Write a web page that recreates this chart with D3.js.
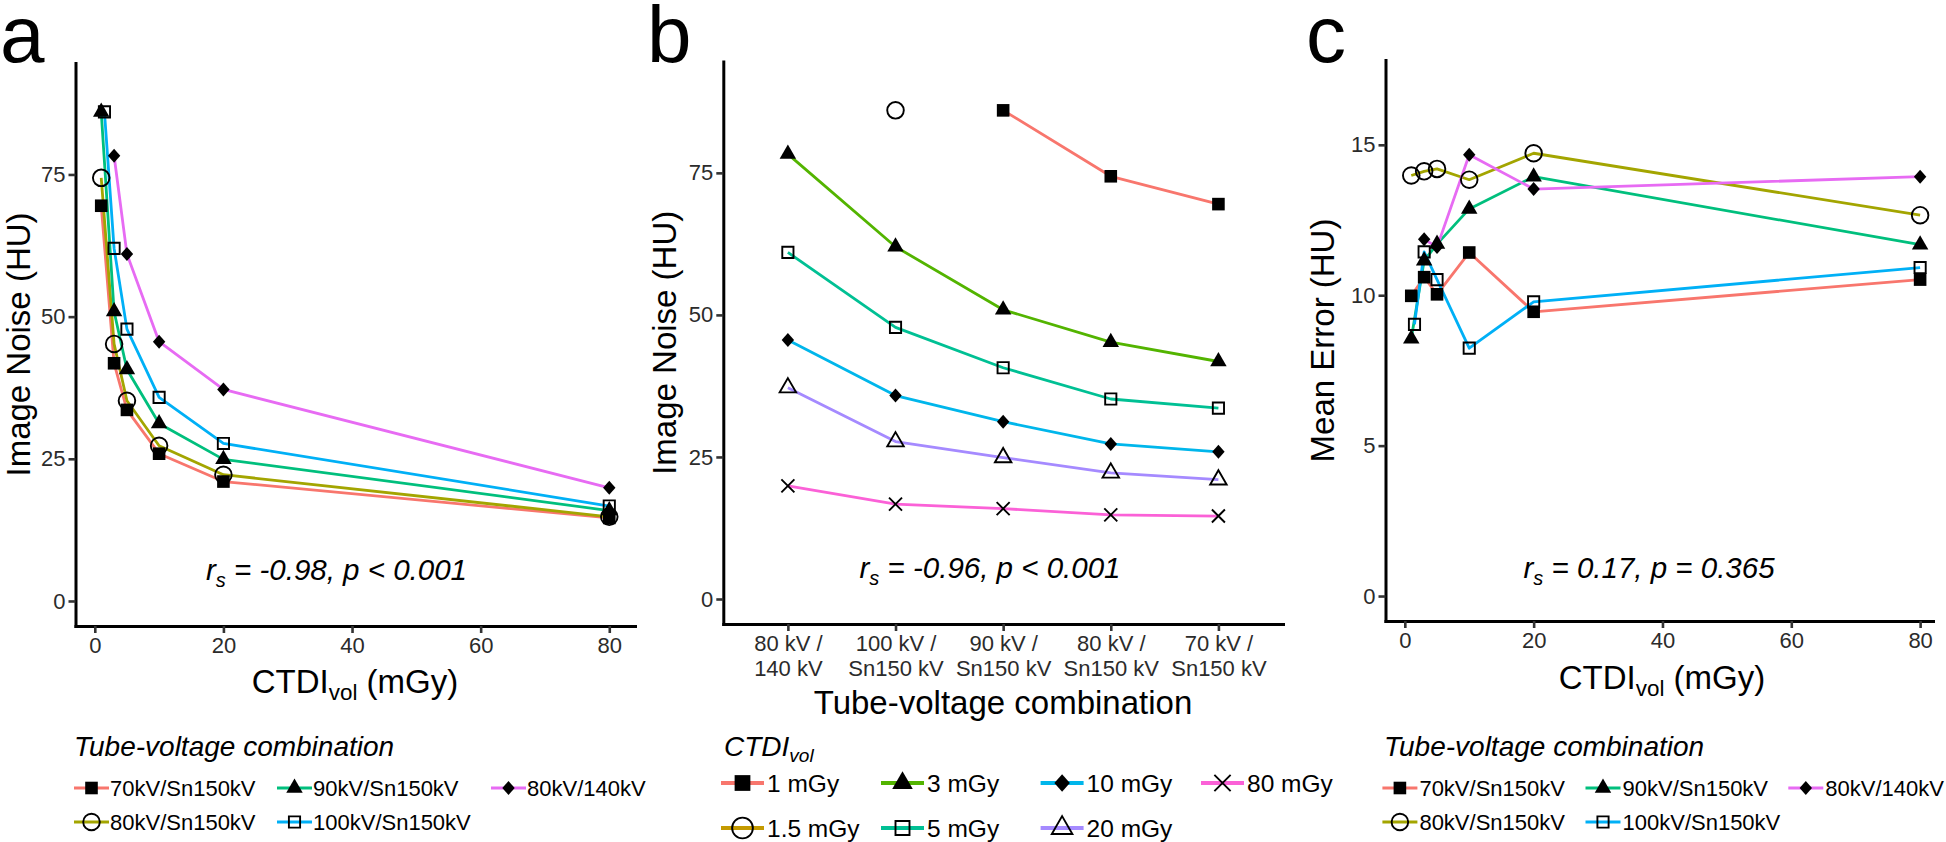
<!DOCTYPE html>
<html><head><meta charset="utf-8">
<script src="https://cdn.jsdelivr.net/npm/d3@7"></script>
<style>
body{margin:0;background:#fff;}
svg{display:block;}
text{font-family:"Liberation Sans",Arial,Helvetica,sans-serif;}
</style>
</head><body>
<svg id="chart" width="1946" height="842"></svg>
<script>
// ---------------- DATA ----------------
const ctdiLevels = [1, 1.5, 3, 5, 10, 20, 80];
const ctdiLabels = ["1 mGy", "1.5 mGy", "3 mGy", "5 mGy", "10 mGy", "20 mGy", "80 mGy"];
const tubeCombos = ["70kV/Sn150kV", "80kV/Sn150kV", "90kV/Sn150kV", "100kV/Sn150kV", "80kV/140kV"];
const panelBOrder = ["80kV/140kV", "100kV/Sn150kV", "90kV/Sn150kV", "80kV/Sn150kV", "70kV/Sn150kV"];
const panelBTickLabels = [["80 kV /", "140 kV"], ["100 kV /", "Sn150 kV"], ["90 kV /", "Sn150 kV"], ["80 kV /", "Sn150 kV"], ["70 kV /", "Sn150 kV"]];

// Image noise (HU), aligned with ctdiLevels (null = not measured)
const noise70kV  = [69.5, null, 41.8, 33.6, 25.9, 21.0, 14.6];
const noise80kVSn = [74.4, null, 45.2, 35.2, 27.3, 22.2, 14.8];
const noise90kV  = [86.0, null, 50.9, 40.7, 31.2, 24.9, 15.9];
const noise100kV = [null, 86.0, 62.0, 47.8, 35.8, 27.7, 16.7];
const noise80kV140 = [null, null, 78.3, 61.0, 45.6, 37.2, 19.9];

// Mean error (HU), aligned with ctdiLevels
const err70kV  = [9.98, null, 10.6, 10.03, 11.42, 9.45, 10.52];
const err80kVSn = [13.98, null, 14.12, 14.2, 13.84, 14.72, 12.66];
const err90kV  = [8.55, null, 11.15, 11.7, 12.87, 13.94, 11.68];
const err100kV = [null, 9.03, 11.44, 10.52, 8.24, 9.78, 10.92];
const err80kV140 = [null, null, 11.86, 11.6, 14.67, 13.53, 13.94];

const yTicksNoise = [0, 25, 50, 75];
const yTicksError = [0, 5, 10, 15];
const xTicksCtdi = [0, 20, 40, 60, 80];

const tubeColors = ["#F8766D", "#A3A500", "#00BF7D", "#00B0F6", "#E76BF3"];
const ctdiColors = ["#F8766D", "#C49A00", "#53B400", "#00C094", "#00B6EB", "#A58AFF", "#FB61D7"];
const tubeShapes = ["sqFilled", "circleOpen", "triFilled", "sqOpen", "diamond"];
const ctdiShapes = ["sqFilled", "circleOpen", "triFilled", "sqOpen", "diamond", "triOpen", "cross"];

const noiseByCombo = {};
[noise70kV, noise80kVSn, noise90kV, noise100kV, noise80kV140].forEach((a, i) => noiseByCombo[tubeCombos[i]] = a);
const errByCombo = {};
[err70kV, err80kVSn, err90kV, err100kV, err80kV140].forEach((a, i) => errByCombo[tubeCombos[i]] = a);

// ---------------- HELPERS ----------------
const svg = d3.select("#chart");

function shapePath(type, k) {
  const p = d3.path();
  if (type === "sqFilled") { const h = 6.3 * k; p.rect(-h, -h, 2 * h, 2 * h); }
  else if (type === "sqOpen") { const h = 5.6 * k; p.rect(-h, -h, 2 * h, 2 * h); }
  else if (type === "circleOpen") { p.arc(0, 0, 8.3 * k, 0, 2 * Math.PI); }
  else if (type === "triFilled" || type === "triOpen") {
    const R = 9.5 * k; p.moveTo(0, -R); p.lineTo(R * 0.866, R * 0.5); p.lineTo(-R * 0.866, R * 0.5); p.closePath();
  }
  else if (type === "diamond") { p.moveTo(0, -7 * k); p.lineTo(6.2 * k, 0); p.lineTo(0, 7 * k); p.lineTo(-6.2 * k, 0); p.closePath(); }
  else if (type === "cross") { const h = 6.5 * k; p.moveTo(-h, -h); p.lineTo(h, h); p.moveTo(h, -h); p.lineTo(-h, h); }
  return p.toString();
}
function drawMarker(g, type, x, y, k) {
  const filled = ["sqFilled", "triFilled", "diamond"].includes(type);
  g.append("path").attr("d", shapePath(type, k || 1))
    .attr("transform", `translate(${x},${y})`)
    .attr("fill", filled ? "#000" : "none")
    .attr("stroke", filled ? "none" : "#000")
    .attr("stroke-width", 1.9);
}

function styleAxis(sel) {
  sel.attr("font-family", null).attr("font-size", null);
  sel.select(".domain").attr("stroke", "#000").attr("stroke-width", 3).attr("stroke-linecap", "square");
  sel.selectAll(".tick line").attr("stroke", "#333").attr("stroke-width", 2.6);
  sel.selectAll(".tick text").attr("fill", "#2b2b2b").style("font-size", "22px");
}

function drawAxes(g, x, y, yTicks, xTicks) {
  const ya = d3.axisLeft(y).tickValues(yTicks).tickSize(7).tickSizeOuter(0).tickPadding(3);
  g.append("g").attr("transform", `translate(${x.range()[0]},0)`).call(ya).call(styleAxis);
  const xa = d3.axisBottom(x).tickSize(7).tickSizeOuter(0).tickPadding(4);
  if (xTicks) xa.tickValues(xTicks);
  const xg = g.append("g").attr("transform", `translate(0,${y.range()[0]})`).call(xa).call(styleAxis);
  return xg;
}

function ctdiTitle(g, cx, baseline, size, italic, anchor) {
  const t = g.append("text").attr("x", cx).attr("y", baseline)
    .attr("text-anchor", anchor || "middle").style("font-size", size + "px")
    .style("font-style", italic ? "italic" : "normal").attr("fill", "#000");
  t.append("tspan").text("CTDI");
  t.append("tspan").attr("dy", size * 0.22).style("font-size", (size * 0.68) + "px").text("vol");
  return t;
}

function yTitle(g, bx, cy, label) {
  g.append("text").attr("transform", `translate(${bx},${cy}) rotate(-90)`)
    .attr("text-anchor", "middle").style("font-size", "33px").attr("fill", "#000").text(label);
}

function annotation(g, cx, baseline, rest) {
  const t = g.append("text").attr("x", cx).attr("y", baseline).attr("text-anchor", "middle")
    .style("font-size", "29.5px").style("font-style", "italic").attr("fill", "#000");
  t.append("tspan").text("r");
  t.append("tspan").attr("dy", 7).style("font-size", "20px").text("s");
  t.append("tspan").attr("dy", -7).text(" = " + rest);
}

function legend(g, o) {
  o.titleFn(g);
  o.items.forEach((it, i) => {
    const col = Math.floor(i / 2), row = i % 2;
    const x0 = o.cols[col], yc = o.rows[row];
    g.append("line").attr("x1", x0).attr("x2", x0 + o.keyW).attr("y1", yc).attr("y2", yc)
      .attr("stroke", it.color).attr("stroke-width", o.lineW);
    drawMarker(g, it.shape, x0 + o.keyW / 2, yc, o.k);
    g.append("text").attr("x", x0 + o.textOff).attr("y", yc).attr("dy", "0.36em")
      .style("font-size", o.fontSize + "px").attr("fill", "#000").text(it.label);
  });
}

function panelLabel(x, label) {
  svg.append("text").attr("x", x).attr("y", 62).style("font-size", "80px").attr("fill", "#000").text(label);
}

function drawCtdiPanel(g, x, y, dataByCombo) {
  const line = d3.line().x(d => x(d.x)).y(d => y(d.y));
  const series = tubeCombos.map((c, i) => ({
    color: tubeColors[i], shape: tubeShapes[i],
    pts: ctdiLevels.map((lv, j) => ({ x: lv, y: dataByCombo[c][j] })).filter(d => d.y != null)
  }));
  series.forEach(s => g.append("path").attr("d", line(s.pts)).attr("fill", "none")
    .attr("stroke", s.color).attr("stroke-width", 2.8).attr("stroke-linejoin", "round"));
  series.forEach(s => s.pts.forEach(d => drawMarker(g, s.shape, x(d.x), y(d.y), 1)));
}

// ---------------- PANEL A ----------------
{
  const g = svg.append("g");
  const x = d3.scaleLinear().domain([-3, 84]).range([75.5, 635]);
  const y = d3.scaleLinear().domain([-4.4, 94.6]).range([626, 63]);
  drawCtdiPanel(g, x, y, noiseByCombo);
  drawAxes(g, x, y, yTicksNoise, xTicksCtdi);
  ctdiTitle(g, 355, 693, 33, false).append("tspan").attr("dy", -33 * 0.22).text(" (mGy)");
  yTitle(g, 30, 344.5, "Image Noise (HU)");
  annotation(g, 336.5, 580, "-0.98, p < 0.001");
  legend(g, {
    titleFn: gg => gg.append("text").attr("x", 74).attr("y", 756).style("font-size", "28px")
      .style("font-style", "italic").attr("fill", "#000").text("Tube-voltage combination"),
    cols: [74, 277, 491], rows: [788, 822], keyW: 35, textOff: 36, fontSize: 22, k: 1, lineW: 3,
    items: tubeCombos.map((c, i) => ({ label: c, color: tubeColors[i], shape: tubeShapes[i] }))
  });
  panelLabel(0, "a");
}

// ---------------- PANEL B ----------------
{
  const g = svg.append("g");
  const x = d3.scalePoint().domain(panelBOrder).range([723.3, 1283]).padding(0.6);
  const y = d3.scaleLinear().domain([-4.4, 94.6]).range([624, 61.5]);
  const line = d3.line().x(d => x(d.x)).y(d => y(d.y));
  const series = ctdiLevels.map((lv, i) => ({
    color: ctdiColors[i], shape: ctdiShapes[i],
    pts: panelBOrder.map(c => ({ x: c, y: noiseByCombo[c][i] })).filter(d => d.y != null)
  }));
  series.forEach(s => { if (s.pts.length > 1) g.append("path").attr("d", line(s.pts)).attr("fill", "none")
    .attr("stroke", s.color).attr("stroke-width", 2.8).attr("stroke-linejoin", "round"); });
  series.forEach(s => s.pts.forEach(d => drawMarker(g, s.shape, x(d.x), y(d.y), 1)));
  const xg = drawAxes(g, x, y, yTicksNoise, null);
  xg.selectAll(".tick text").each(function (d) {
    const t = d3.select(this); t.text(null);
    const lines = panelBTickLabels[panelBOrder.indexOf(d)];
    t.append("tspan").attr("x", 0).attr("dy", "0.71em").text(lines[0]);
    t.append("tspan").attr("x", 0).attr("dy", "1.15em").text(lines[1]);
  });
  g.append("text").attr("x", 1003).attr("y", 714).attr("text-anchor", "middle")
    .style("font-size", "33px").attr("fill", "#000").text("Tube-voltage combination");
  yTitle(g, 676, 342.8, "Image Noise (HU)");
  annotation(g, 990, 578, "-0.96, p < 0.001");
  legend(g, {
    titleFn: gg => ctdiTitle(gg, 724, 756, 28, true, "start"),
    cols: [721, 881, 1040.6, 1201], rows: [783, 828], keyW: 43, textOff: 46, fontSize: 24.5, k: 1.25, lineW: 4,
    items: ctdiLabels.map((c, i) => ({ label: c, color: ctdiColors[i], shape: ctdiShapes[i] }))
  });
  panelLabel(647, "b");
}

// ---------------- PANEL C ----------------
{
  const g = svg.append("g");
  const x = d3.scaleLinear().domain([-3, 82]).range([1385.5, 1933]);
  const y = d3.scaleLinear().domain([-0.83, 17.82]).range([621, 60]);
  drawCtdiPanel(g, x, y, errByCombo);
  drawAxes(g, x, y, yTicksError, xTicksCtdi);
  ctdiTitle(g, 1662, 689, 33, false).append("tspan").attr("dy", -33 * 0.22).text(" (mGy)");
  yTitle(g, 1334, 340.5, "Mean Error (HU)");
  annotation(g, 1649, 578, "0.17, p = 0.365");
  legend(g, {
    titleFn: gg => gg.append("text").attr("x", 1384).attr("y", 756).style("font-size", "28px")
      .style("font-style", "italic").attr("fill", "#000").text("Tube-voltage combination"),
    cols: [1382.4, 1585.5, 1788.3], rows: [788, 822], keyW: 35, textOff: 37, fontSize: 22, k: 1, lineW: 3,
    items: tubeCombos.map((c, i) => ({ label: c, color: tubeColors[i], shape: tubeShapes[i] }))
  });
  panelLabel(1306, "c");
}
</script>
</body></html>
